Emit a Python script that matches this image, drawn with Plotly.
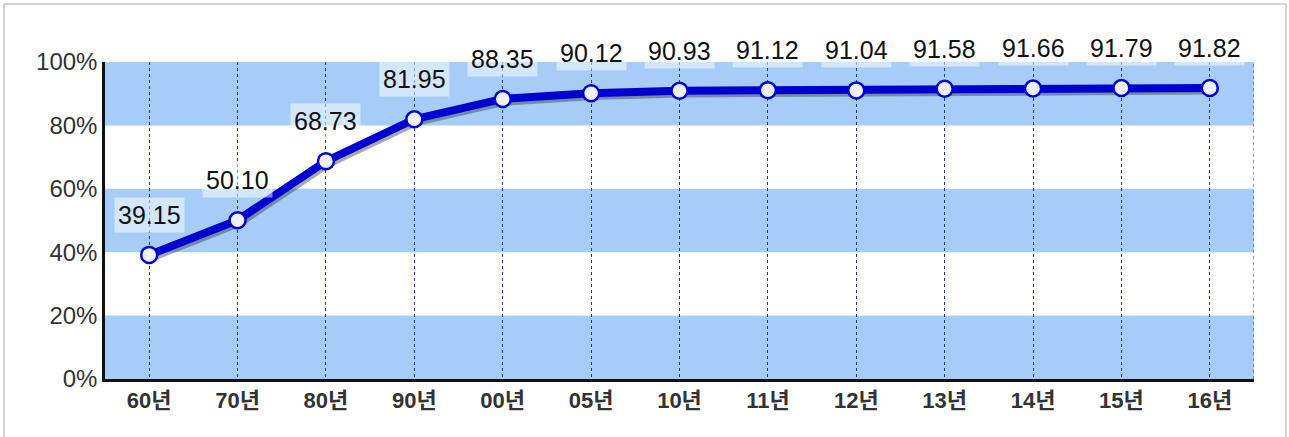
import plotly.graph_objects as go

categories = ["60년", "70년", "80년", "90년", "00년", "05년", "10년", "11년", "12년", "13년", "14년", "15년", "16년"]
values = [39.15, 50.10, 68.73, 81.95, 88.35, 90.12, 90.93, 91.12, 91.04, 91.58, 91.66, 91.79, 91.82]
y_ticks = [0, 20, 40, 60, 80, 100]
y_tick_text = ["0%", "20%", "40%", "60%", "80%", "100%"]
bands = [(0, 20), (40, 60), (80, 100)]

W, H = 1289, 437
ml, mr, mt, mb = 105, 35, 62, 58

xs = list(range(len(categories)))
fig = go.Figure()

# shadow
fig.add_trace(go.Scatter(x=[x + 0.025 for x in xs], y=[v - 1.0 for v in values], mode="lines",
                         line=dict(color="rgba(40,40,40,0.4)", width=7), hoverinfo="skip", showlegend=False))
fig.add_trace(go.Scatter(x=xs, y=values, mode="lines+markers",
                         line=dict(color="#0000d0", width=8),
                         marker=dict(size=16, color="#eef2f8", line=dict(color="#0000d0", width=2.5)),
                         showlegend=False))

for x, v in zip(xs, values):
    fig.add_annotation(x=x, y=v, text=f"{v:.2f}", showarrow=False, yshift=40,
                       font=dict(size=25, color="#111", family="Arial, Liberation Sans"),
                       bgcolor="rgba(255,255,255,0.5)", borderpad=3)

for lo, hi in bands:
    fig.add_shape(type="rect", xref="x", yref="y", x0=-0.5, x1=len(categories) - 0.5, y0=lo, y1=hi,
                  fillcolor="#a5cdf8", line_width=0, layer="below")

fig.add_shape(type="line", xref="x", yref="y", x0=len(categories) - 0.5, x1=len(categories) - 0.5, y0=0, y1=100,
              line=dict(color="#2233aa", width=1, dash="dot"), layer="below")

# outer frame
pw = W - ml - mr
ph = H - mt - mb
fig.add_shape(type="rect", xref="paper", yref="paper",
              x0=(4 - ml) / pw, x1=(1286 - ml) / pw,
              y0=(mt + ph - 440) / ph, y1=(mt + ph - 4) / ph,
              line=dict(color="#aaaaaa", width=1), fillcolor="rgba(0,0,0,0)", layer="below")

fig.update_layout(
    width=W, height=H, margin=dict(l=ml, r=mr, t=mt, b=mb),
    plot_bgcolor="white", paper_bgcolor="white",
    font=dict(family="Arial, Liberation Sans, Noto Sans CJK KR"),
    xaxis=dict(range=[-0.5, len(categories) - 0.5], tickmode="array", tickvals=xs,
               ticktext=[f"<b>{c}</b>" for c in categories],
               tickfont=dict(size=22, color="#333", family="Arial, Liberation Sans, Noto Sans CJK KR"),
               showgrid=True, gridcolor="#2233aa", griddash="dot", gridwidth=1,
               showline=True, linecolor="#111", linewidth=2.5, ticks="", zeroline=False),
    yaxis=dict(range=[0, 100], tickmode="array", tickvals=y_ticks, ticktext=y_tick_text, showgrid=False,
               tickfont=dict(size=24, color="#333"), showline=True, linecolor="#111", linewidth=2.5,
               ticks="", zeroline=False),
)

fig.write_html("out.html", config={"displayModeBar": False},
               post_script="document.body.style.margin='0';document.body.style.overflow='hidden';")
